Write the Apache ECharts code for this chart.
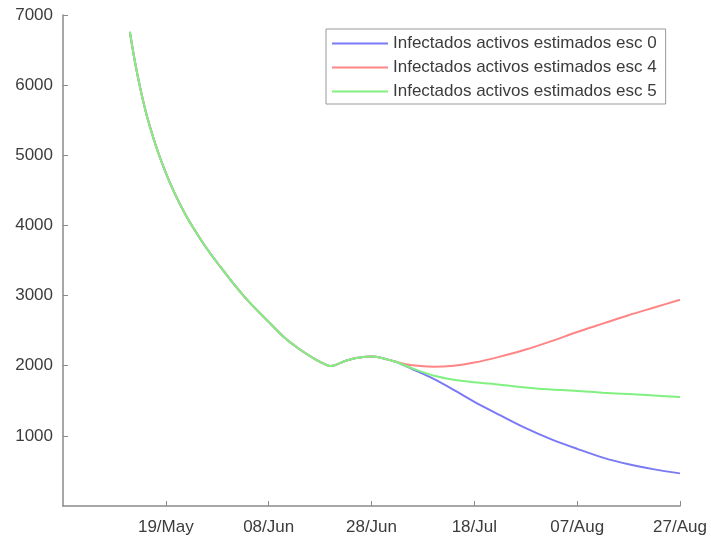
<!DOCTYPE html>
<html>
<head>
<meta charset="utf-8">
<script src="https://cdn.jsdelivr.net/npm/echarts@6/dist/echarts.min.js"></script>
<style>
html,body{margin:0;padding:0;background:#fff;}
#chart{width:711px;height:541px;}
</style>
</head>
<body>
<div id="chart"></div>
<script>
// Day index: 0 = 29/Apr
const tickLabels = ['19/May', '08/Jun', '28/Jun', '18/Jul', '07/Aug', '27/Aug'];
const seriesNames = ['Infectados activos estimados esc 0', 'Infectados activos estimados esc 4', 'Infectados activos estimados esc 5'];

const commonDays   = [13, 14, 15, 16, 17, 18, 19, 20, 21, 22, 23, 24, 25, 26, 27, 28, 29, 30, 33, 36, 40, 43, 46, 49, 51, 52, 53, 55, 57, 59, 60, 62, 64, 65];
const commonValues = [6760, 6330, 5965, 5650, 5385, 5150, 4940, 4750, 4575, 4415, 4268, 4132, 4006, 3888, 3775, 3668, 3565, 3468, 3185, 2925, 2625, 2405, 2235, 2095, 2020, 1995, 2010, 2070, 2110, 2128, 2130, 2110, 2070, 2050];

const tailDays   = [68, 72, 76, 80, 85, 90, 95, 100, 105, 110, 115, 120];
const esc0Values = [1950, 1815, 1655, 1485, 1295, 1110, 950, 815, 690, 595, 522, 465];
const esc4Values = [2005, 1985, 2000, 2045, 2130, 2230, 2350, 2480, 2600, 2720, 2830, 2940];
const esc5Values = [1960, 1860, 1800, 1765, 1730, 1690, 1660, 1640, 1615, 1595, 1575, 1555];

const colors = ['#7a7af5', '#ff8585', '#80f080'];

function build(tail) {
  const d = commonDays.map((x, i) => [x, commonValues[i]]);
  return d.concat(tailDays.map((x, i) => [x, tail[i]]));
}

const chart = echarts.init(document.getElementById('chart'), null, {renderer: 'canvas'});
const font = 'Liberation Sans, Arial, Helvetica, sans-serif';
chart.setOption({
  animation: false,
  backgroundColor: '#ffffff',
  grid: {left: 63, right: 31, top: 15, bottom: 35},
  xAxis: {
    type: 'value', min: 0, max: 120, interval: 20,
    axisLine: {show: true, lineStyle: {color: '#8a8a8a', width: 1.5}},
    axisTick: {show: true, inside: true, length: 5, lineStyle: {color: '#8a8a8a'}},
    splitLine: {show: false},
    axisLabel: {
      showMinLabel: false, margin: 13, color: '#3c3c3c', fontSize: 17, fontFamily: font,
      formatter: v => { const i = Math.round(v / 20) - 1; return i >= 0 && i < tickLabels.length ? tickLabels[i] : ''; }
    }
  },
  yAxis: {
    type: 'value', min: 0, max: 7000, interval: 1000,
    axisLine: {show: true, lineStyle: {color: '#8a8a8a', width: 1.5}},
    axisTick: {show: true, inside: true, length: 5, lineStyle: {color: '#8a8a8a'}},
    splitLine: {show: false},
    axisLabel: {showMinLabel: false, margin: 10, color: '#3c3c3c', fontSize: 17, fontFamily: font, formatter: v => String(v)}
  },
  legend: {
    orient: 'vertical', left: 326, top: 29,
    backgroundColor: '#fff', borderColor: '#999', borderWidth: 1,
    padding: [6, 9, 4, 6], itemGap: 7,
    itemWidth: 56, itemHeight: 2, icon: 'rect',
    textStyle: {fontSize: 17, color: '#3c3c3c', fontFamily: font},
    data: seriesNames
  },
  series: [
    {name: seriesNames[0], type: 'line', data: build(esc0Values), showSymbol: false, symbol: 'none', smooth: 0.3, lineStyle: {width: 2, color: colors[0]}, itemStyle: {color: colors[0]}},
    {name: seriesNames[1], type: 'line', data: build(esc4Values), showSymbol: false, symbol: 'none', smooth: 0.3, lineStyle: {width: 2, color: colors[1]}, itemStyle: {color: colors[1]}},
    {name: seriesNames[2], type: 'line', data: build(esc5Values), showSymbol: false, symbol: 'none', smooth: 0.3, lineStyle: {width: 2, color: colors[2]}, itemStyle: {color: colors[2]}}
  ]
});
</script>
</body>
</html>
